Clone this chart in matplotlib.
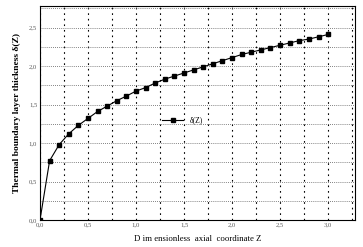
import numpy as np
import matplotlib
matplotlib.use("Agg")
import matplotlib.pyplot as plt
from matplotlib.ticker import MultipleLocator, FuncFormatter

# данные: безразмерная координата Z и толщина теплового пограничного слоя
z_vals = [0.0, 0.1, 0.2, 0.3, 0.4, 0.5, 0.6, 0.7, 0.8, 0.9, 1.0,
          1.1, 1.2, 1.3, 1.4, 1.5, 1.6, 1.7, 1.8, 1.9, 2.0,
          2.1, 2.2, 2.3, 2.4, 2.5, 2.6, 2.7, 2.8, 2.9, 3.0]
delta_vals = [0.0, 0.77, 0.98, 1.12, 1.23, 1.32, 1.41, 1.48, 1.55, 1.61, 1.675,
              1.72, 1.78, 1.83, 1.87, 1.91, 1.95, 1.99, 2.03, 2.07, 2.11,
              2.15, 2.18, 2.21, 2.24, 2.27, 2.30, 2.33, 2.35, 2.38, 2.41]
series_label = "δ(Z)"

plt.rcParams["font.family"] = ["Liberation Serif", "DejaVu Serif"]

fig = plt.figure(figsize=(3.63, 2.47), dpi=100)
ax = fig.add_axes([40 / 363, 27 / 247, 315 / 363, 214 / 247])

ax.plot(z_vals, delta_vals, color="black", linewidth=0.8, linestyle="-",
        marker="s", markersize=3.2, label=series_label, zorder=3)

ax.set_xlim(0, 3.28)
ax.set_ylim(0, 2.78)

ax.xaxis.set_major_locator(MultipleLocator(0.5))
ax.yaxis.set_major_locator(MultipleLocator(0.5))
ax.xaxis.set_minor_locator(MultipleLocator(0.25))
ax.yaxis.set_minor_locator(MultipleLocator(0.25))
comma = FuncFormatter(lambda v, p: f"{v:.1f}".replace(".", ","))
ax.xaxis.set_major_formatter(comma)
ax.yaxis.set_major_formatter(comma)
ax.tick_params(which="both", length=0, labelsize=4.8, colors="0.35", pad=2)

# сетка: вертикальные штриховые, горизонтальные пунктирные
ax.grid(True, which="both", axis="x", color="black", linestyle=(0, (1.5, 3.5)), linewidth=0.8)
ax.grid(True, which="both", axis="y", color="0.35", linestyle=(0, (1, 1.5)), linewidth=0.6)
ax.set_axisbelow(True)

for s in ax.spines.values():
    s.set_linewidth(0.8)

ax.set_xlabel("D im ensionless  axial  coordinate Z", fontsize=6.3, labelpad=5)
ax.set_ylabel("Thermal boundary layer thickness δ(Z)", fontsize=6.8,
              fontweight="bold", labelpad=6)

ax.legend(loc="upper left", bbox_to_anchor=(0.37, 0.51), fontsize=5.5,
          frameon=False, handlelength=2.8, borderpad=0.2)

fig.savefig("out.png", dpi=100)
plt.close(fig)
